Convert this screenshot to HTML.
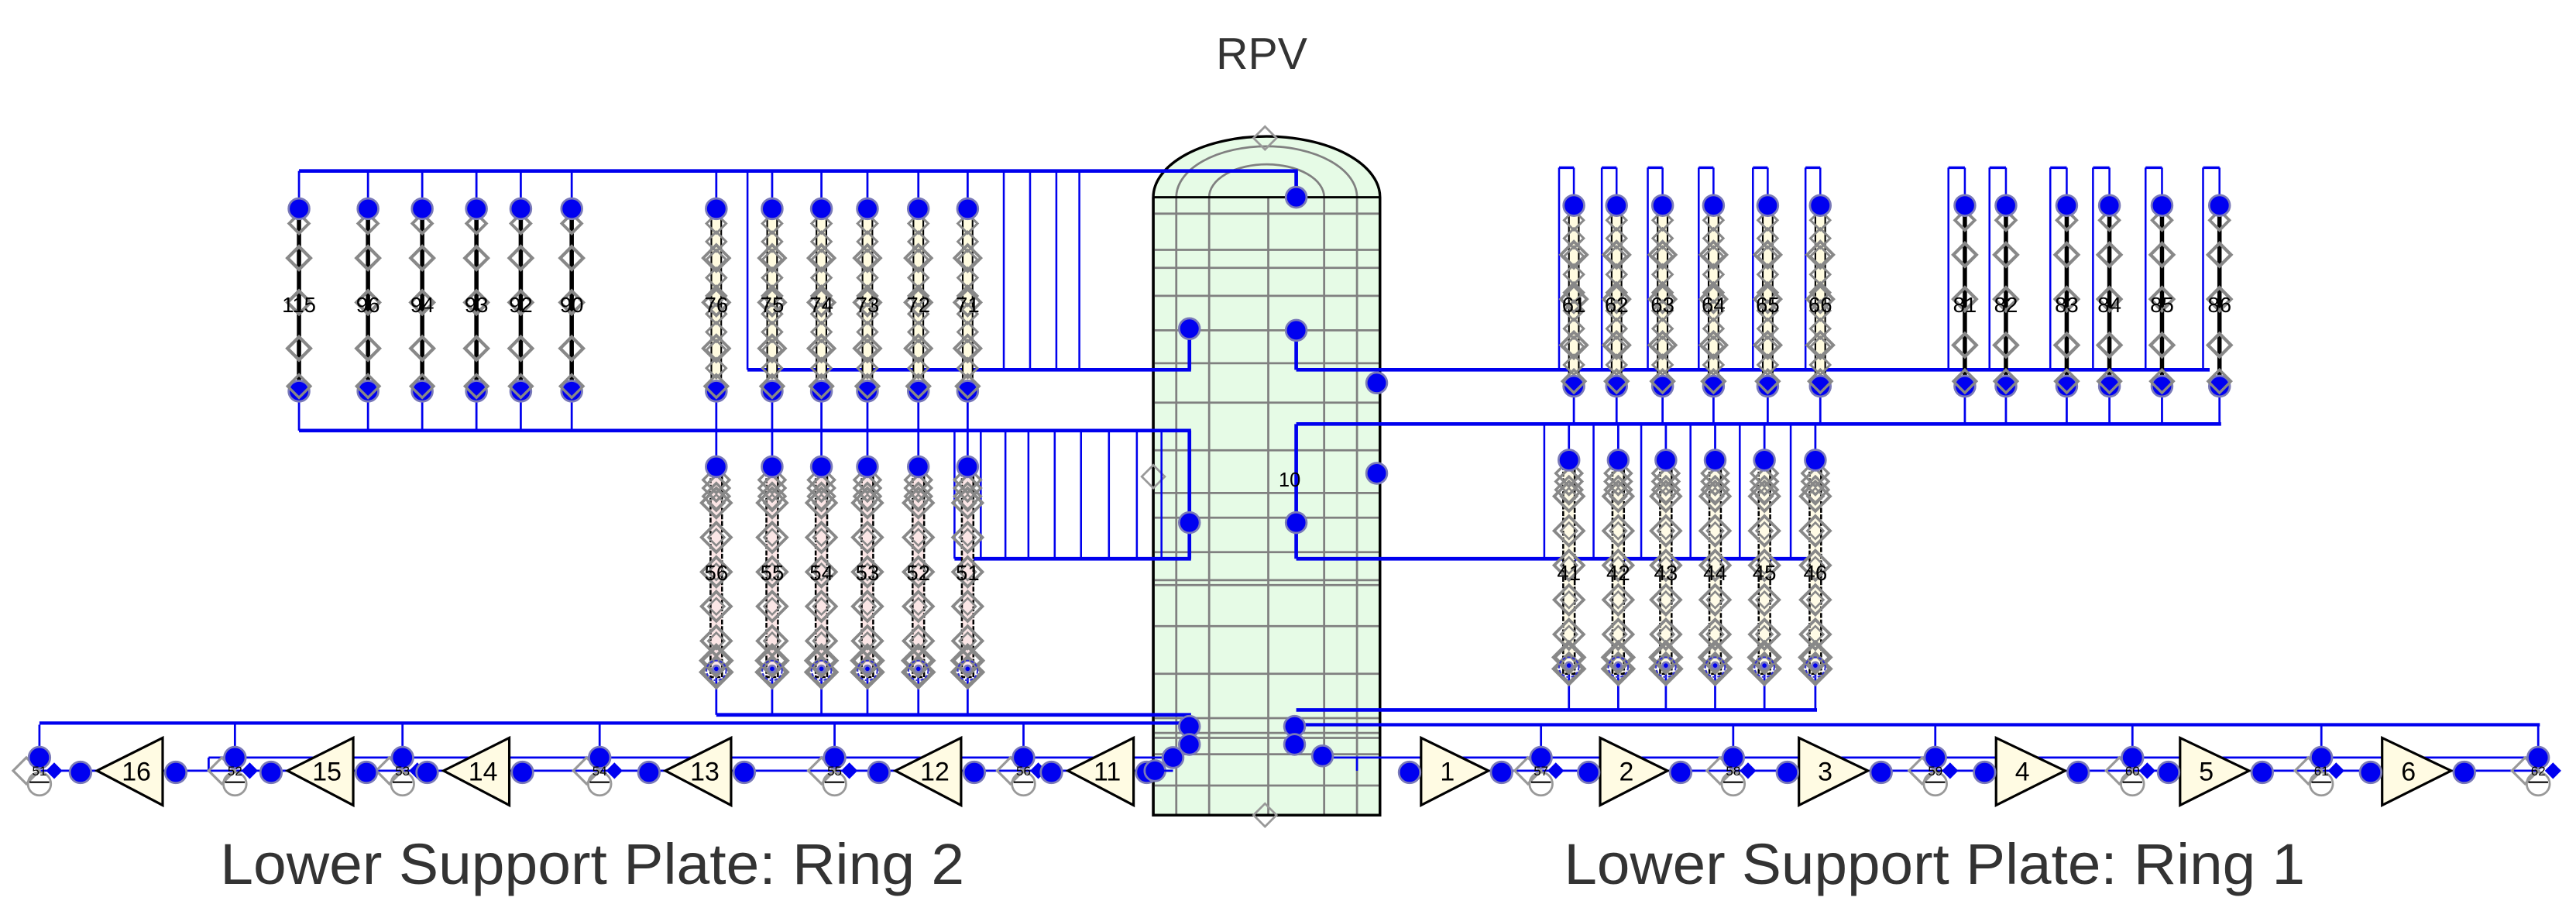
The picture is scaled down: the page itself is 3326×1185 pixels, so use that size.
<!DOCTYPE html>
<html><head><meta charset="utf-8"><style>
html,body{margin:0;padding:0;background:#fff;}
svg{display:block;}
</style></head><body>
<svg id="d" xmlns="http://www.w3.org/2000/svg" width="3326" height="1185" viewBox="0 0 1568 558.6">
<g id="shapes"></g>
<g font-family="Liberation Sans, sans-serif" fill="#000">
<text x="768" y="42" font-size="27" text-anchor="middle" fill="#333">RPV</text>
<text x="134" y="538" font-size="35" textLength="453" lengthAdjust="spacingAndGlyphs" fill="#333">Lower Support Plate: Ring 2</text>
<text x="952" y="538" font-size="35" textLength="451" lengthAdjust="spacingAndGlyphs" fill="#333">Lower Support Plate: Ring 1</text>
<text x="785" y="296" font-size="12" text-anchor="middle">10</text>
<g font-size="13" text-anchor="middle">
<text x="182" y="190">115</text><text x="224" y="190">96</text><text x="257" y="190">94</text><text x="290" y="190">93</text><text x="317" y="190">92</text><text x="348" y="190">90</text>
<text x="436" y="190">76</text><text x="470" y="190">75</text><text x="500" y="190">74</text><text x="528" y="190">73</text><text x="559" y="190">72</text><text x="589" y="190">71</text>
<text x="958" y="190">61</text><text x="984" y="190">62</text><text x="1012" y="190">63</text><text x="1043" y="190">64</text><text x="1076" y="190">65</text><text x="1108" y="190">66</text>
<text x="1196" y="190">81</text><text x="1221" y="190">82</text><text x="1258" y="190">83</text><text x="1284" y="190">84</text><text x="1316" y="190">85</text><text x="1351" y="190">86</text>
<text x="436" y="353">56</text><text x="470" y="353">55</text><text x="500" y="353">54</text><text x="528" y="353">53</text><text x="559" y="353">52</text><text x="589" y="353">51</text>
<text x="955" y="353">41</text><text x="985" y="353">42</text><text x="1014" y="353">43</text><text x="1044" y="353">44</text><text x="1074" y="353">45</text><text x="1105" y="353">46</text>
</g>
<g font-size="16" text-anchor="middle">
<text x="83" y="475">16</text><text x="199" y="475">15</text><text x="294" y="475">14</text><text x="429" y="475">13</text><text x="569" y="475">12</text><text x="674" y="475">11</text>
<text x="881" y="475">1</text><text x="990" y="475">2</text><text x="1111" y="475">3</text><text x="1231" y="475">4</text><text x="1343" y="475">5</text><text x="1466" y="475">6</text>
</g>
<g font-size="8" text-anchor="middle">
<text x="24" y="472">51</text><text x="143" y="472">52</text><text x="245" y="472">53</text><text x="365" y="472">54</text><text x="508" y="472">55</text><text x="623" y="472">56</text>
<text x="938" y="472">57</text><text x="1055" y="472">58</text><text x="1178" y="472">59</text><text x="1298" y="472">60</text><text x="1413" y="472">61</text><text x="1545" y="472">62</text>
</g>
</g>
</svg>
<script>
(function(){
var s='';var B='#0000ee';
function L(x1,y1,x2,y2,w,c){s+='<line x1="'+x1+'" y1="'+y1+'" x2="'+x2+'" y2="'+y2+'" stroke="'+(c||B)+'" stroke-width="'+(w||1)+'"/>';}
function P(d,f,c,w,extra){s+='<path d="'+d+'" fill="'+(f||'none')+'" stroke="'+(c||B)+'" stroke-width="'+(w||1)+'" '+(extra||'')+'/>';}
function dot(x,y,r){s+='<circle cx="'+x+'" cy="'+y+'" r="'+(r||6.3)+'" fill="#0000f0" stroke="#7a7ab8" stroke-width="1.3"/>';}
function dia(x,y,h,w,c){h=h||7;P('M'+(x-h)+' '+y+'L'+x+' '+(y-h)+'L'+(x+h)+' '+y+'L'+x+' '+(y+h)+'Z','none',c||'#888',w||2);}
P('M702 496V120A69 37 0 0 1 840 120V496Z','#e6fbe6','#000',1.6);
P('M716 120A55 31 0 0 1 826 120','none','#808080',1.3);
P('M736 120A35 20 0 0 1 806 120','none','#808080',1.3);
var hs=[130,152,163,180,201,221,245,274,300,315,336,353,356,381,410,437,446,449,459,478];
hs.forEach(function(y){L(702,y,840,y,1.3,'#808080');});
[716,736,772,806,826].forEach(function(x){L(x,120,x,496,1.3,'#808080');});
L(702,120,840,120,1.4,'#000');
P('M702 120V496H840V120','none','#000',1.6);
dia(770,84,7,1.3,'#999');dia(702,290,7,1.3,'#999');dia(770,496,7,1.3,'#999');
L(182,104,790,104,2.2);L(789,104,789,120,2.2);
L(182,262,725,262,2.2);L(724,262,724,340,2.2);
[455,611,627,643,657].forEach(function(x){L(x,104,x,225,1.2);});
L(455,225,725,225,2.2);L(724,200,724,225,2.2);
[581,597,612,626,642,658,675,692,707].forEach(function(x){L(x,262,x,340,1.2);});
L(581,340,725,340,2.2);
L(436,435,725,435,2.2);
L(24,440,725,440,2);
L(789,201,789,225,2.2);L(789,225,1345,225,2.2);
L(789,258,1352,258,2.2);L(789,258,789,340,2.2);
L(789,340,1100,340,2.2);
L(789,432,1106,432,2.2);
L(789,441,1546,441,2);
function colA(x,yt,yb){L(x,yt,x,yb,2.6,'#000');
  dia(x,yt+9,6,1.8);[yt+30,yt+57,yt+85].forEach(function(y){dia(x,y,7,2);});
  dot(x,yt);dot(x,yb);dia(x,yb-3,7,1.6);}
function colY(x,yt,yb){s+='<rect x="'+(x-3)+'" y="'+yt+'" width="6" height="'+(yb-yt)+'" fill="#fffbe0" stroke="#000" stroke-width="1"/>';
  for(var y=yt+9;y<yb-5;y+=11){dia(x,y,6,1.4);}
  [yt+30,yt+57,yt+85].forEach(function(y){dia(x,y,8,1.8);});
  dot(x,yt);dot(x,yb);dia(x,yb-3,7,1.6);}
function colB(x,yt,yb,fill){s+='<rect x="'+(x-3.5)+'" y="'+yt+'" width="7" height="'+(yb-yt)+'" fill="'+fill+'" stroke="#000" stroke-width="1.2" stroke-dasharray="3 1"/>';
  [yt+8,yt+13,yt+18].forEach(function(y){dia(x,y,8,1.6);});
  for(var y=yt+22;y<yb-10;y+=21){dia(x,y,9,1.8);dia(x,y,5,1.2);}
  dia(x,yb-10,9,2.5);dia(x,yb-3,9,2.5);
  s+='<circle cx="'+x+'" cy="'+(yb-4)+'" r="6" fill="none" stroke="#33c" stroke-width="1" stroke-dasharray="2 1"/>';
  dot(x,yt);dot(x,yb-5,2);}
var g1=[182,224,257,290,317,348],g2=[436,470,500,528,559,589];
g1.forEach(function(x){L(x,104,x,127,1.3);L(x,238,x,262,1.3);colA(x,127,238);});
g2.forEach(function(x){L(x,104,x,127,1.3);L(x,238,x,262,1.3);colY(x,127,238);});
g2.forEach(function(x){L(x,262,x,284,1.3);L(x,410,x,435,1.3);colB(x,284,412,'#fbe6e6');});
var r1=[958,984,1012,1043,1076,1108],r2=[1196,1221,1258,1284,1316,1351];
r1.concat(r2).forEach(function(x,i){var lx=x-(i<6?9:10);L(lx,225,lx,102,1.2);L(lx,102,x,102,1.6);L(x,102,x,125,1.2);L(x,235,x,258,1.3);});
r1.forEach(function(x){colY(x,125,235);});
r2.forEach(function(x){colA(x,125,235);});
var r3=[955,985,1014,1044,1074,1105];
r3.forEach(function(x){L(x,258,x,280,1.3);L(x-15,258,x-15,340,1.2);L(x,408,x,432,1.3);colB(x,280,410,'#fffbe6');});
dot(789,120);dot(724,200);dot(789,201);dot(838,233);dot(838,288);dot(724,318);dot(789,318);
L(127,461,714,461,1.3);L(127,461,127,469,1.3);
L(24,469,714,469,1.3);
L(805,461,1546,461,1.3);
L(858,469,1546,469,1.3);L(826,461,826,469,1.3);
var ring2=[[59,99],[175,215],[270,310],[405,445],[545,585],[650,690]],c2=[24,143,245,365,508,623];
var ring1=[[865,906],[974,1015],[1095,1137],[1215,1257],[1327,1369],[1450,1492]],c1=[938,1055,1178,1298,1413,1545];
function cluster(x){L(x,441,x,461,1.3);dia(x-8,469,8,1.5,'#999');
  s+='<circle cx="'+x+'" cy="'+(477)+'" r="7" fill="none" stroke="#999" stroke-width="1.3"/>';
  P('M'+(x-6)+' 464H'+(x+5)+'M'+(x-6)+' 476H'+(x+6),'none','#000',1);
  s+='<path d="M'+(x+4)+' 469L'+(x+9)+' 464L'+(x+14)+' 469L'+(x+9)+' 474Z" fill="#0000f0"/>';
  dot(x,461,6.5);}
c2.forEach(cluster);c1.forEach(cluster);
ring2.forEach(function(t){P('M'+t[0]+' 469L'+t[1]+' 449V490Z','#fffbe3','#000',1.5);dot(t[0]-10,470,6.5);dot(t[1]+8,470,6.5);});
ring1.forEach(function(t){P('M'+t[1]+' 469L'+t[0]+' 449V490Z','#fffbe3','#000',1.5);dot(t[0]-7,470,6.5);dot(t[1]+8,470,6.5);});
dot(724,442);dot(724,453);dot(714,461);dot(703,469);L(703,469,714,469,1.3);
dot(788,442);dot(788,453);dot(805,460);
document.getElementById('shapes').innerHTML=s;
})();
</script>
</body></html>
